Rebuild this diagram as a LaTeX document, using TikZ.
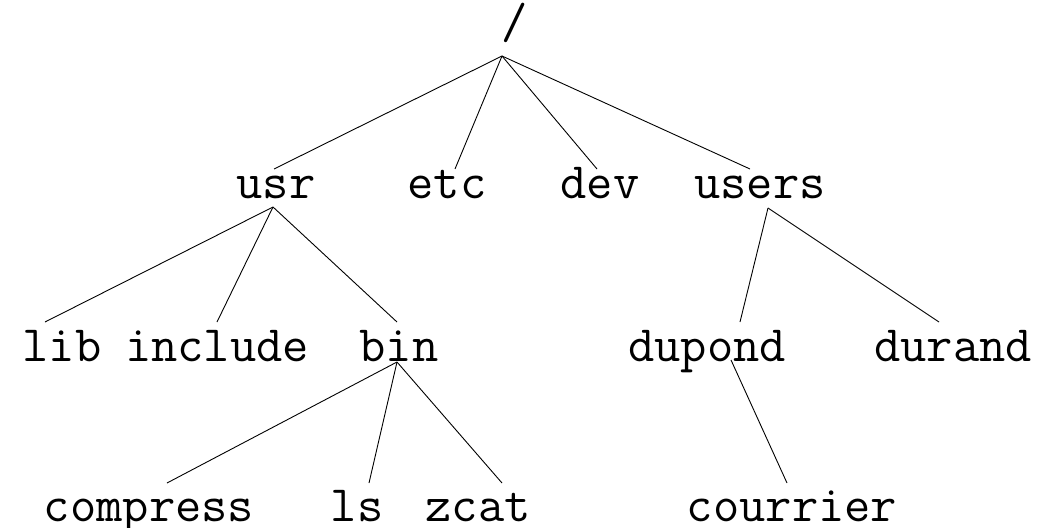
\documentclass[tikz,border=0pt]{standalone}
\usepackage{fontspec}
\tikzset{
  lbl/.style={anchor=base, inner sep=0pt, font=\ttfamily\fontsize{51}{51}\selectfont},
  edge/.style={line width=0.9pt, black}
}
\begin{document}
\begin{tikzpicture}[x=1pt,y=-1pt]
\useasboundingbox (0,0) rectangle (1043,527);
% nodes
\node[lbl] (root) at (515,39) {/};
\node[lbl] (usr) at (276,198) {usr};
\node[lbl] (etc) at (447,198) {etc};
\node[lbl] (dev) at (600,198) {dev};
\node[lbl] (users) at (760,198) {users};
\node[lbl] (lib) at (62,361) {lib};
\node[lbl] (include) at (217,361) {include};
\node[lbl] (bin) at (399,361) {bin};
\node[lbl] (dupond) at (707,361) {dupond};
\node[lbl] (durand) at (953,361) {durand};
\node[lbl] (compress) at (149,521) {compress};
\node[lbl] (ls) at (357,521) {ls};
\node[lbl] (zcat) at (478,521) {zcat};
\node[lbl] (courrier) at (792,521) {courrier};
% connector end points
\coordinate (root-b) at (502,56);
\coordinate (usr-t) at (274,169);
\coordinate (etc-t) at (455,169);
\coordinate (dev-t) at (597,169);
\coordinate (users-t) at (750,169);
\coordinate (usr-b) at (273,207);
\coordinate (users-b) at (768,208);
\coordinate (lib-t) at (45,322);
\coordinate (include-t) at (217,322);
\coordinate (bin-t) at (397,322);
\coordinate (dupond-t) at (740,322);
\coordinate (durand-t) at (939,322);
\coordinate (bin-b) at (397,362);
\coordinate (dupond-b) at (731,360);
\coordinate (compress-t) at (167,483);
\coordinate (ls-t) at (369,483);
\coordinate (zcat-t) at (502,483);
\coordinate (courrier-t) at (787,483);
% connectors
\draw[edge] (root-b) -- (usr-t);
\draw[edge] (root-b) -- (etc-t);
\draw[edge] (root-b) -- (dev-t);
\draw[edge] (root-b) -- (users-t);
\draw[edge] (usr-b) -- (lib-t);
\draw[edge] (usr-b) -- (include-t);
\draw[edge] (usr-b) -- (bin-t);
\draw[edge] (users-b) -- (dupond-t);
\draw[edge] (users-b) -- (durand-t);
\draw[edge] (bin-b) -- (compress-t);
\draw[edge] (bin-b) -- (ls-t);
\draw[edge] (bin-b) -- (zcat-t);
\draw[edge] (dupond-b) -- (courrier-t);
\end{tikzpicture}
\end{document}
